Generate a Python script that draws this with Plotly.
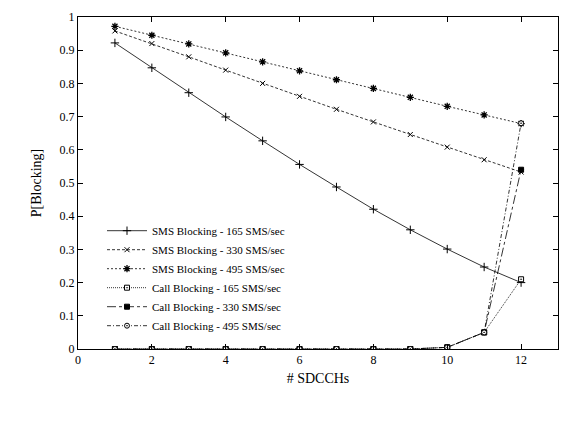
import plotly.graph_objects as go

sdcch = list(range(1, 13))
sms_165 = [0.922, 0.847, 0.772, 0.699, 0.627, 0.556, 0.488, 0.421, 0.359, 0.301, 0.247, 0.200]
sms_330 = [0.958, 0.920, 0.880, 0.840, 0.800, 0.761, 0.722, 0.684, 0.646, 0.608, 0.570, 0.533]
sms_495 = [0.972, 0.945, 0.919, 0.892, 0.865, 0.838, 0.811, 0.785, 0.758, 0.731, 0.705, 0.679]
call_165 = [0, 0, 0, 0, 0, 0, 0, 0, 0, 0.005, 0.05, 0.21]
call_330 = [0, 0, 0, 0, 0, 0, 0, 0, 0, 0.005, 0.05, 0.54]
call_495 = [0, 0, 0, 0, 0, 0, 0, 0, 0, 0.005, 0.05, 0.68]

series = [
    ("SMS Blocking - 165 SMS/sec", sms_165, "solid", "cross-thin", 6, 1),
    ("SMS Blocking - 330 SMS/sec", sms_330, "3px,2px", "x-thin", 5, 1),
    ("SMS Blocking - 495 SMS/sec", sms_495, "2px,2px", "asterisk", 6, 1.3),
    ("Call Blocking - 165 SMS/sec", call_165, "1px,1px", "square-dot", 5, 1),
    ("Call Blocking - 330 SMS/sec", call_330, "dashdot", "square", 5, 1),
    ("Call Blocking - 495 SMS/sec", call_495, "4px,2px,1px,2px", "circle-dot", 5, 1),
]

fig = go.Figure()
for name, ys, dash, sym, size, lw in series:
    fig.add_trace(go.Scatter(
        x=sdcch, y=ys, name=name, mode="lines+markers",
        line=dict(color="black", width=0.8, dash=dash),
        marker=dict(symbol=sym, size=size, color="black" if sym == "square" else "white",
                    line=dict(color="black", width=lw)),
    ))

axis = dict(showline=True, linecolor="black", linewidth=1, mirror="ticks", automargin=False,
            ticks="inside", ticklen=5, tickcolor="black", showgrid=False, zeroline=False)
fig.update_layout(
    width=588, height=426,
    margin=dict(l=70, r=38, t=9, b=85),
    paper_bgcolor="white", plot_bgcolor="white",
    font=dict(family="Liberation Serif", size=12, color="black"),
    xaxis=dict(axis, range=[0, 13], dtick=2, title=dict(text="# SDCCHs", standoff=6)),
    yaxis=dict(axis, range=[0, 1], dtick=0.1, title=dict(text="P[Blocking]", standoff=14)),
    legend=dict(x=0.05, y=0.40, xanchor="left", yanchor="top", bgcolor="rgba(0,0,0,0)",
                font=dict(size=11), tracegroupgap=0, itemwidth=40),
    showlegend=True,
)
fig.write_html("out.html")
